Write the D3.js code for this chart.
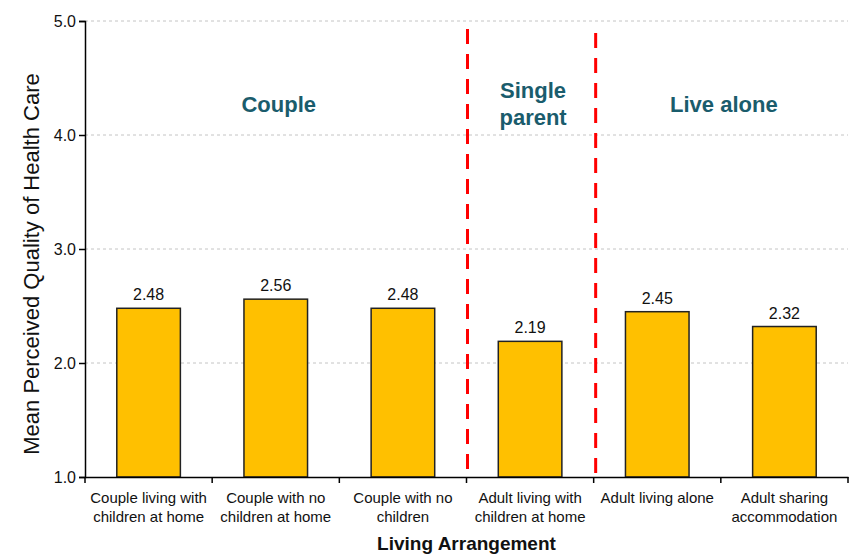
<!DOCTYPE html>
<html>
<head>
<meta charset="utf-8">
<script src="https://cdn.jsdelivr.net/npm/d3@7"></script>
<style>
  body { margin: 0; background: #fff; }
  svg { font-family: "Liberation Sans", Arial, sans-serif; }
</style>
</head>
<body>
<div id="chart"></div>
<script>
var categories = [
  ["Couple living with", "children at home"],
  ["Couple with no", "children at home"],
  ["Couple with no", "children"],
  ["Adult living with", "children at home"],
  ["Adult living alone"],
  ["Adult sharing", "accommodation"]
];
var values = [2.48, 2.56, 2.48, 2.19, 2.45, 2.32];
var yTicks = [1.0, 2.0, 3.0, 4.0, 5.0];
// groups: label lines, first and last category index
var groups = [
  { lines: ["Couple"], from: 0, to: 2 },
  { lines: ["Single", "parent"], from: 3, to: 3 },
  { lines: ["Live alone"], from: 4, to: 5 }
];

var width = 863, height = 556;
var margin = { top: 21, right: 15, bottom: 79, left: 85 };
var w = width - margin.left - margin.right;
var h = height - margin.top - margin.bottom;

var svg = d3.select("#chart")
  .append("svg")
    .attr("width", width)
    .attr("height", height)
  .append("g")
    .attr("transform", `translate(${margin.left},${margin.top})`);

var x = d3.scaleBand()
  .range([0, w])
  .domain(d3.range(categories.length))
  .paddingInner(0.5)
  .paddingOuter(0.25);

var y = d3.scaleLinear()
  .domain([1, 5])
  .range([h, 0]);

// gridlines
svg.append("g")
  .selectAll("line")
  .data(yTicks.slice(1))
  .join("line")
    .attr("x1", 0)
    .attr("x2", w)
    .attr("y1", d => y(d))
    .attr("y2", d => y(d))
    .attr("stroke", "#c4c4c4")
    .attr("stroke-dasharray", "3,3")
    .attr("stroke-width", 1);

// bars
svg.selectAll("rect.bar")
  .data(values)
  .join("rect")
    .attr("class", "bar")
    .attr("x", (d, i) => x(i))
    .attr("y", d => y(d))
    .attr("width", x.bandwidth())
    .attr("height", d => h - y(d))
    .attr("fill", "#FFC000")
    .attr("stroke", "#222")
    .attr("stroke-width", 1.5);

svg.selectAll("text.val")
  .data(values)
  .join("text")
    .attr("class", "val")
    .attr("x", (d, i) => x(i) + x.bandwidth() / 2)
    .attr("y", d => y(d) - 8)
    .attr("text-anchor", "middle")
    .style("font-size", "16px")
    .attr("fill", "#111")
    .text(d => d.toFixed(2));

// group separators
var step = x.step();
var seps = groups.slice(1).map(g => g.from * step);
svg.selectAll("line.sep")
  .data(seps)
  .join("line")
    .attr("class", "sep")
    .attr("x1", (d, i) => d + 1 + i)
    .attr("x2", (d, i) => d + 1 + i)
    .attr("y1", (d, i) => 8 + 4 * i)
    .attr("y2", h)
    .attr("stroke", "#ff0000")
    .attr("stroke-width", 3)
    .attr("stroke-dasharray", "15,10");

// group labels
var gl = svg.selectAll("text.grp")
  .data(groups)
  .join("text")
    .attr("class", "grp")
    .attr("text-anchor", "middle")
    .attr("fill", "#1a5c6c")
    .style("font-size", "22px")
    .style("font-weight", "bold")
    .attr("transform", d => {
      var cx = (d.from * step + (d.to + 1) * step) / 2;
      var cy = d.lines.length > 1 ? 77 : 91;
      return `translate(${cx + 3},${cy})`;
    });
gl.selectAll("tspan")
  .data(d => d.lines)
  .join("tspan")
    .attr("x", 0)
    .attr("dy", (d, i) => i ? 27 : 0)
    .text(d => d);

// y axis
var yAxis = svg.append("g")
  .call(d3.axisLeft(y).tickValues(yTicks).tickFormat(d3.format(".1f")).tickSizeOuter(0).tickSize(6));
yAxis.select(".domain").attr("stroke", "#000").attr("stroke-width", 1.5);
yAxis.selectAll(".tick line").attr("stroke", "#000").attr("stroke-width", 1.5);
yAxis.selectAll("text").style("font-size", "16px").attr("fill", "#111").attr("font-family", null);

// x axis
var xAxis = svg.append("g")
  .attr("transform", `translate(0,${h})`)
  .call(d3.axisBottom(x).tickSize(0).tickFormat(""));
xAxis.select(".domain").attr("stroke", "#000").attr("stroke-width", 1.5);
xAxis.append("g")
  .selectAll("line")
  .data(d3.range(categories.length + 1))
  .join("line")
    .attr("x1", d => d * step)
    .attr("x2", d => d * step)
    .attr("y1", 0)
    .attr("y2", 6)
    .attr("stroke", "#000")
    .attr("stroke-width", 1.5);

var xl = svg.append("g")
  .selectAll("text")
  .data(categories)
  .join("text")
    .attr("text-anchor", "middle")
    .style("font-size", "15px")
    .attr("fill", "#111")
    .attr("transform", (d, i) => `translate(${x(i) + x.bandwidth() / 2},${h + 26})`);
xl.selectAll("tspan")
  .data(d => d)
  .join("tspan")
    .attr("x", 0)
    .attr("dy", (d, i) => i ? 19 : 0)
    .text(d => d);

// axis titles
svg.append("text")
  .attr("x", w / 2)
  .attr("y", h + 73)
  .attr("text-anchor", "middle")
  .style("font-size", "19px")
  .style("font-weight", "bold")
  .attr("fill", "#111")
  .text("Living Arrangement");

svg.append("text")
  .attr("transform", `translate(${-46},${h / 2 + 15}) rotate(-90)`)
  .attr("text-anchor", "middle")
  .style("font-size", "22px")
  .attr("fill", "#111")
  .text("Mean Perceived Quality of Health Care");
</script>
</body>
</html>
